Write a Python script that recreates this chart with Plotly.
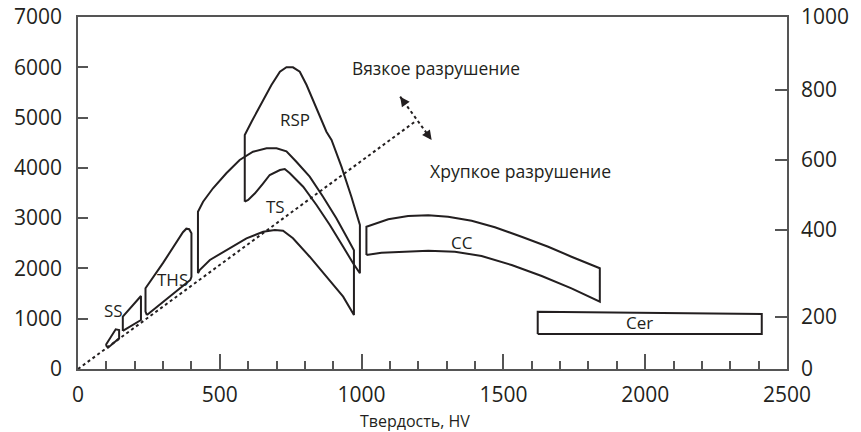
import plotly.graph_objects as go

# ---------------- data ----------------
# Hardness HV (x) vs strength (left axis units)
ss1_x = [98, 133, 145, 145, 106, 98]
ss1_y = [477, 789, 776, 610, 424, 477]

ss2_x = [158, 158, 222, 222, 158]
ss2_y = [756, 1040, 1452, 974, 756]

ths_x = [243, 238, 238, 300, 370, 382, 392, 400, 400, 396, 388, 243]
ths_y = [1074, 1140, 1605, 2110, 2720, 2790, 2780, 2698, 1835, 1770, 1736, 1074]

ts_x = [423, 423, 441, 476, 523, 570, 617, 665, 700, 735, 770, 817, 864, 911, 947, 970, 973,
        973, 935, 876, 817, 758, 723, 694, 653, 594, 524, 465, 429, 423]
ts_y = [1903, 3128, 3327, 3594, 3892, 4156, 4321, 4389, 4389, 4330, 4122, 3824, 3426, 2997, 2631, 2400, 2360,
        1074, 1438, 1835, 2233, 2599, 2750, 2764, 2730, 2599, 2366, 2168, 1969, 1903]

rsp_x = [588, 588, 612, 647, 682, 712, 735, 758, 782, 806, 841, 876, 894, 929, 964, 994, 994,
         970, 935, 888, 841, 794, 747, 729, 712, 676, 653, 624, 600, 588]
rsp_y = [3327, 4653, 4918, 5284, 5648, 5912, 6000, 6000, 5912, 5648, 5184, 4719, 4554, 4023, 3426, 2864, 1903,
         2102, 2432, 2864, 3261, 3625, 3892, 3977, 3957, 3858, 3693, 3494, 3361, 3327]

cc_x = [1017, 1017, 1094, 1164, 1235, 1305, 1388, 1470, 1564, 1658, 1740, 1840,
        1840, 1740, 1635, 1529, 1423, 1329, 1235, 1141, 1070, 1017]
cc_y = [2267, 2830, 2977, 3043, 3057, 3029, 2949, 2818, 2631, 2432, 2233, 2003,
        1338, 1605, 1849, 2068, 2247, 2333, 2353, 2333, 2313, 2267]

cer_x = [1621, 1621, 2411, 2411, 1621]
cer_y = [696, 1139, 1094, 696, 696]

trend_x = [0, 1188]
trend_y = [0, 4918]

arrow_x = [1136, 1247]
arrow_y = [5415, 4554]

shape_labels = ["SS", "THS", "TS", "RSP", "CC", "Cer"]
label_x = [126, 334, 697, 764, 1354, 1981]
label_y = [1173, 1770, 3241, 4952, 2506, 915]

x_ticks = [0, 500, 1000, 1500, 2000, 2500]
left_ticks = [0, 1000, 2000, 3000, 4000, 5000, 6000, 7000]
right_tick_text = ["0", "200", "400", "600", "800", "1000"]
right_tick_pos = [0, 149, 395, 594, 793, 1000]

ductile_text = "Вязкое разрушение"
brittle_text = "Хрупкое разрушение"
x_title = "Твердость, HV"

# ---------------- figure ----------------
INK = "#231f20"
AXC = "#555555"
FONT = "Open Sans"

fig = go.Figure()

for xs, ys in [(ss1_x, ss1_y), (ss2_x, ss2_y), (ths_x, ths_y), (ts_x, ts_y),
               (rsp_x, rsp_y), (cc_x, cc_y), (cer_x, cer_y)]:
    fig.add_trace(go.Scatter(x=xs, y=ys, mode="lines",
                             line=dict(color=INK, width=2), hoverinfo="skip",
                             showlegend=False))

fig.add_trace(go.Scatter(x=trend_x, y=trend_y, mode="lines",
                         line=dict(color=INK, width=2, dash="dot"),
                         showlegend=False, hoverinfo="skip"))
fig.add_trace(go.Scatter(x=arrow_x, y=arrow_y, mode="lines",
                         line=dict(color=INK, width=2, dash="dot"),
                         showlegend=False, hoverinfo="skip"))

# invisible trace to activate right axis
fig.add_trace(go.Scatter(x=[0], y=[0], yaxis="y2", mode="markers",
                         marker=dict(opacity=0), showlegend=False, hoverinfo="skip"))

# arrow heads at both ends of the double arrow
dx = arrow_x[1] - arrow_x[0]
dy = arrow_y[1] - arrow_y[0]
for (px, py, sgn) in [(arrow_x[0], arrow_y[0], 1), (arrow_x[1], arrow_y[1], -1)]:
    fig.add_annotation(x=px, y=py, ax=px + sgn * 0.12 * dx, ay=py + sgn * 0.12 * dy,
                       xref="x", yref="y", axref="x", ayref="y",
                       showarrow=True, arrowhead=2, arrowsize=1.2, arrowwidth=1.6,
                       arrowcolor=INK, text="")

for t, lx, ly in zip(shape_labels, label_x, label_y):
    fig.add_annotation(x=lx, y=ly, text=t, showarrow=False,
                       font=dict(family=FONT, size=17, color=INK))

fig.add_annotation(x=958, y=5986, text=ductile_text, showarrow=False, xanchor="left",
                   font=dict(family=FONT, size=17.4, color=INK))
fig.add_annotation(x=1234, y=3937, text=brittle_text, showarrow=False, xanchor="left",
                   font=dict(family=FONT, size=17.6, color=INK))
fig.add_annotation(x=1187, y=-0.148, xref="x", yref="paper", text=x_title, showarrow=False,
                   yanchor="middle", font=dict(family=FONT, size=16, color=INK))

fig.update_layout(
    width=861, height=432,
    margin=dict(l=78, r=74, t=17, b=63, autoexpand=False),
    paper_bgcolor="white", plot_bgcolor="white",
    font=dict(family=FONT, color=INK),
    showlegend=False,
    xaxis=dict(range=[0, 2500], tickvals=x_ticks, ticks="inside", ticklen=15, tickwidth=1.5,
               tickcolor=AXC, showline=True, linecolor=AXC, linewidth=1.5, mirror=True,
               showgrid=False, zeroline=False, tickfont=dict(size=21, color=INK),
               ticklabelstandoff=6, automargin=False,
               minor=dict(dtick=100, ticks="inside", ticklen=8, tickwidth=1.5, tickcolor=AXC)),
    yaxis=dict(range=[0, 7000], tickvals=left_ticks, ticks="inside", ticklen=10, tickwidth=1.5,
               tickcolor=AXC, showline=True, linecolor=AXC, linewidth=1.5, mirror=True,
               showgrid=False, zeroline=False, tickfont=dict(size=21, color=INK),
               ticklabelstandoff=10, automargin=False),
    yaxis2=dict(range=[0, 1000], overlaying="y", side="right", tickvals=right_tick_pos,
                ticktext=right_tick_text, ticks="inside", ticklen=12, tickwidth=1.5,
                tickcolor=AXC, showline=True, linecolor=AXC, linewidth=1.5,
                showgrid=False, zeroline=False, tickfont=dict(size=21, color=INK),
                ticklabelstandoff=8, automargin=False),
)

fig.write_html(
    "out.html",
    config={"displayModeBar": False},
    post_script="document.body.style.margin='0';document.body.style.overflow='hidden';",
)
